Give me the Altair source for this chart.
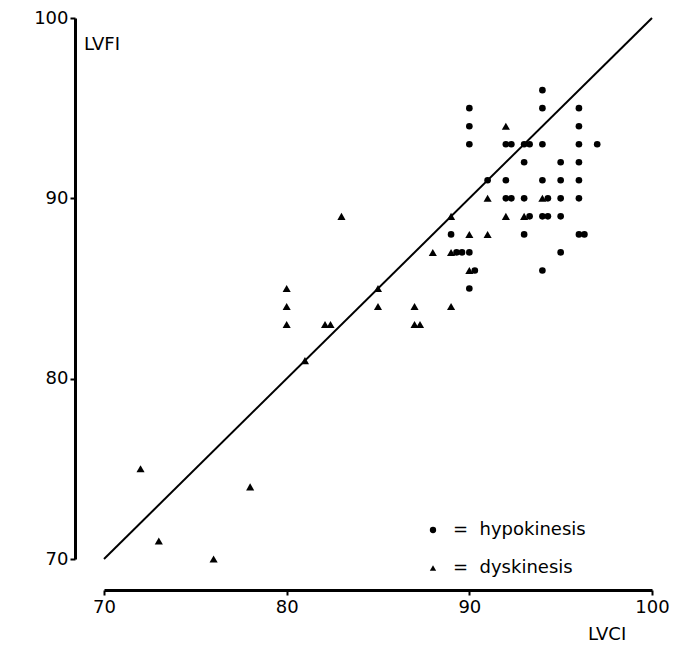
import altair as alt
import pandas as pd

# Hypokinesis patients (filled circles): LVCI vs LVFI
hypo_x = [94,
          90, 94, 96,
          90, 96,
          90, 92, 92.3, 93, 93.3, 94, 96, 97,
          93, 95, 96,
          91, 92, 94, 95, 96,
          92, 92.3, 93, 94.3, 95, 96,
          93.3, 94, 94.3, 95,
          89, 93, 96, 96.3,
          89.3, 89.6, 90, 95,
          90.3, 94,
          90]
hypo_y = [96,
          95, 95, 95,
          94, 94,
          93, 93, 93, 93, 93, 93, 93, 93,
          92, 92, 92,
          91, 91, 91, 91, 91,
          90, 90, 90, 90, 90, 90,
          89, 89, 89, 89,
          88, 88, 88, 88,
          87, 87, 87, 87,
          86, 86,
          85]

# Dyskinesis patients (filled triangles)
dys_x = [92, 91, 94, 83, 89, 92, 93, 90, 91, 88, 89, 90,
         80, 85, 80, 85, 87, 89, 80, 82.1, 82.4, 87, 87.3,
         81, 72, 78, 73, 76]
dys_y = [94, 90, 90, 89, 89, 89, 89, 88, 88, 87, 87, 86,
         85, 85, 84, 84, 84, 84, 83, 83, 83, 83, 83,
         81, 75, 74, 71, 70]

groups = ["hypokinesis", "dyskinesis"]
ticks = [70, 80, 90, 100]
FONT = "DejaVu Sans"

pts = pd.DataFrame({
    "LVCI": hypo_x + dys_x,
    "LVFI": hypo_y + dys_y,
    "group": [groups[0]] * len(hypo_x) + [groups[1]] * len(dys_x),
})
identity = pd.DataFrame({"LVCI": [70, 100], "LVFI": [70, 100]})

x_scale = alt.Scale(domain=[70, 100], nice=False, zero=False)
y_scale = alt.Scale(domain=[70, 100], nice=False, zero=False)

axis_style = dict(
    values=ticks, grid=False, title=None, labelFlush=False,
    domainColor="black", domainWidth=3,
    tickColor="black", tickWidth=2, tickSize=5,
    labelFont=FONT, labelFontSize=18, labelColor="black",
)
x_axis = alt.Axis(offset=31, labelPadding=3, **axis_style)
y_axis = alt.Axis(offset=29, labelPadding=2, **axis_style)

diag = alt.Chart(identity).mark_line(color="black", strokeWidth=2).encode(
    x=alt.X("LVCI:Q", scale=x_scale, axis=x_axis),
    y=alt.Y("LVFI:Q", scale=y_scale, axis=y_axis),
)

points = alt.Chart(pts).mark_point(
    filled=True, color="black", opacity=1
).encode(
    x=alt.X("LVCI:Q", scale=x_scale),
    y=alt.Y("LVFI:Q", scale=y_scale),
    shape=alt.Shape(
        "group:N",
        scale=alt.Scale(domain=groups, range=["circle", "triangle-up"]),
        sort=groups,
        legend=alt.Legend(
            orient="none", legendX=320, legendY=503, title=None,
            labelFont=FONT, labelFontSize=18, labelColor="black",
            symbolSize=40, symbolFillColor="black", symbolStrokeWidth=0,
            labelOffset=11, rowPadding=20, padding=0,
            labelExpr="'=\u00a0\u00a0' + datum.label",
        ),
    ),
    size=alt.condition(
        alt.datum.group == "dyskinesis", alt.value(66), alt.value(44)
    ),
)

one = pd.DataFrame({"k": [0]})
y_title = alt.Chart(one).mark_text(
    align="left", baseline="middle", font=FONT, fontSize=18, color="black"
).encode(x=alt.value(-20), y=alt.value(27), text=alt.value("LVFI"))
x_title = alt.Chart(one).mark_text(
    align="left", baseline="middle", font=FONT, fontSize=18, color="black"
).encode(x=alt.value(484), y=alt.value(617), text=alt.value("LVCI"))

chart = (
    alt.layer(diag, points, y_title, x_title)
    .properties(
        width=548, height=541,
        padding={"left": 104, "top": 18, "right": 21, "bottom": 100},
        autosize=alt.AutoSizeParams(type="none"),
        background="white",
    )
    .configure_view(stroke=None)
)

chart.save("out.html", embed_options={"renderer": "svg", "actions": False})
